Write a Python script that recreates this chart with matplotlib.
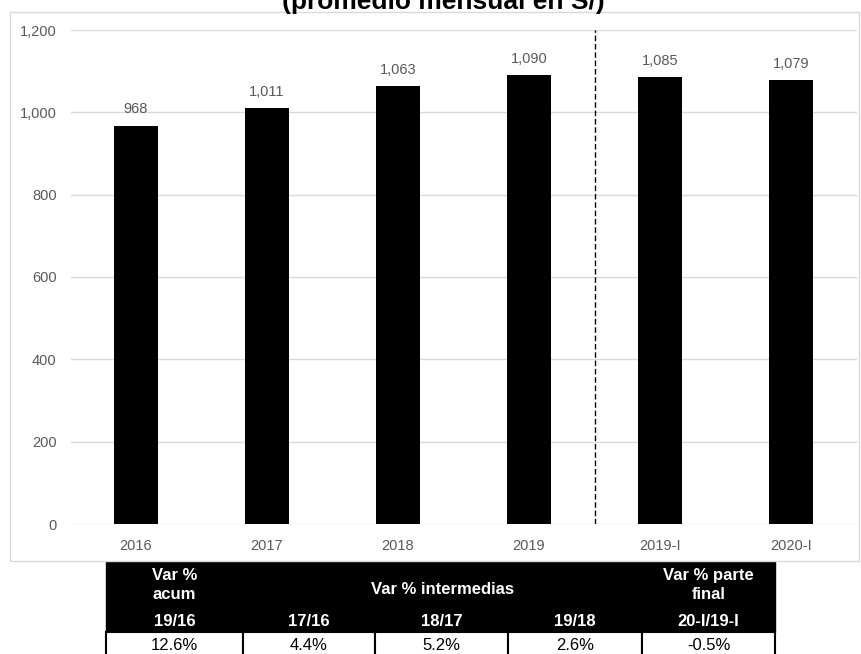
import matplotlib
matplotlib.use("Agg")
import matplotlib.pyplot as plt
from matplotlib.patches import Rectangle
from matplotlib.ticker import FuncFormatter

plt.rcParams['font.family'] = ['Liberation Sans', 'DejaVu Sans']

# datos
categories = ['2016', '2017', '2018', '2019', '2019-I', '2020-I']
values = [968, 1011, 1063, 1090, 1085, 1079]
value_labels = ['968', '1,011', '1,063', '1,090', '1,085', '1,079']
periods = ['19/16', '17/16', '18/17', '19/18', '20-I/19-I']
variations = ['12.6%', '4.4%', '5.2%', '2.6%', '-0.5%']
groups = ['Var %\nacum', 'Var % intermedias', 'Var % parte\nfinal']

W, H = 861, 654
fig = plt.figure(figsize=(W / 100, H / 100), dpi=100)

# marco del grafico
fig.patches.append(Rectangle((10 / W, 1 - 561 / H), 849 / W, 549 / H,
                             transform=fig.transFigure, fill=False,
                             edgecolor='#d9d9d9', lw=1))

fig.text(443 / W, 1 - 9 / H, '(promedio mensual en S/)', ha='center',
         va='baseline', fontsize=19, fontweight='bold')

ax = fig.add_axes([70.5 / W, 1 - 524 / H, 786 / W, 494 / H])
x = range(len(categories))
bars = ax.bar(x, values, width=0.33, color='black', zorder=3)
for xi, v, lab in zip(x, values, value_labels):
    ax.text(xi, v + 22, lab, ha='center', va='bottom', fontsize=10.5,
            color='#595959')
ax.axvline(3.5, color='black', ls=(0, (4, 2)), lw=1, zorder=4)

ax.set_xlim(-0.5, len(categories) - 0.5)
ax.set_ylim(0, 1200)
ax.set_yticks(range(0, 1201, 200))
ax.yaxis.set_major_formatter(FuncFormatter(lambda v, p: f'{int(v):,}'))
ax.set_xticks(list(x))
ax.set_xticklabels(categories)
ax.grid(axis='y', color='#d9d9d9', lw=1, zorder=0)
for s in ax.spines.values():
    s.set_visible(False)
ax.tick_params(length=0, labelsize=10.5, labelcolor='#595959')
ax.tick_params(axis='y', pad=10)
ax.tick_params(axis='x', pad=11)

# tabla de variaciones
tx = fig.add_axes([0, 0, 1, 1])
tx.set_xlim(0, W)
tx.set_ylim(H, 0)
tx.axis('off')
edges = [106, 243, 375, 508, 642, 775]
tx.add_patch(Rectangle((edges[0], 562), edges[-1] - edges[0], 70,
                       color='black'))
for i in range(len(periods)):
    tx.add_patch(Rectangle((edges[i], 632), edges[i + 1] - edges[i], 30,
                           facecolor='white', edgecolor='black', lw=1.5))
    cx = (edges[i] + edges[i + 1]) / 2
    tx.text(cx, 621, periods[i], ha='center', va='center', color='white',
            fontsize=12, fontweight='bold')
    tx.text(cx, 645, variations[i], ha='center', va='center', color='black',
            fontsize=12)
tx.text((edges[0] + edges[1]) / 2, 585, groups[0], ha='center', va='center',
        color='white', fontsize=12, fontweight='bold', linespacing=1.4)
tx.text((edges[1] + edges[4]) / 2, 590, groups[1], ha='center', va='center',
        color='white', fontsize=12, fontweight='bold')
tx.text((edges[4] + edges[5]) / 2, 585, groups[2], ha='center', va='center',
        color='white', fontsize=12, fontweight='bold', linespacing=1.4)

fig.savefig('out.png', dpi=100)
